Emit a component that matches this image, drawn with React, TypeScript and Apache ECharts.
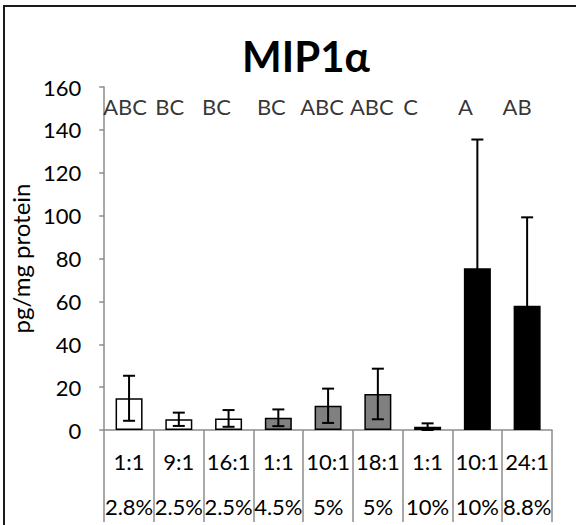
import React, { useEffect, useRef } from 'react';
import * as echarts from 'echarts';

const categories = ['1:1', '9:1', '16:1', '1:1', '10:1', '18:1', '1:1', '10:1', '24:1'];
const percents = ['2.8%', '2.5%', '2.5%', '4.5%', '5%', '5%', '10%', '10%', '8.8%'];
const means = [14.8, 5.0, 5.4, 5.7, 11.3, 16.8, 1.5, 75.5, 58.0];
const errors = [10.5, 3.1, 3.9, 3.9, 8.0, 11.8, 1.6, 60.0, 41.2];
const letters = ['ABC', 'BC', 'BC', 'BC', 'ABC', 'ABC', 'C', 'A', 'AB'];
const barColors = ['#ffffff', '#ffffff', '#ffffff', '#808080', '#808080', '#808080', '#000000', '#000000', '#000000'];
const letterOffsets = [-4, -9, -12, -7, -6, -6, -17, -12, -10];
const letterLevel = 151;
const yMin = 0;
const yMax = 160;
const yStep = 20;

const FONT = 'Lato, "Open Sans", sans-serif';

export default function App() {
  const ref = useRef<HTMLDivElement>(null);
  useEffect(() => {
    if (!ref.current) return;
    const chart = echarts.init(ref.current, undefined, { renderer: 'svg' });
    chart.setOption({
      animation: false,
      backgroundColor: '#ffffff',
      textStyle: { fontFamily: FONT },
      grid: { left: 102, right: 24, top: 87, bottom: 95 },
      graphic: [
        {
          type: 'rect',
          shape: { x: 4, y: 6, width: 620, height: 600 },
          style: { fill: 'none', stroke: '#1a1a1a', lineWidth: 2 },
          silent: true,
        },
        {
          type: 'text',
          x: 306,
          y: 56,
          style: {
            text: 'MIP1α',
            fontSize: 42,
            fontWeight: 'bold',
            fontFamily: FONT,
            fill: '#000',
            align: 'center',
            verticalAlign: 'middle',
          },
        },
      ],
      xAxis: {
        type: 'category',
        data: categories,
        axisLine: { lineStyle: { color: '#8c8c8c', width: 1.5 } },
        axisTick: { show: true, length: 92, lineStyle: { color: '#8c8c8c', width: 1.5 } },
        axisLabel: {
          interval: 0,
          margin: 9,
          formatter: (v: string, i: number) => `{a|${v}}\n{b|${percents[i]}}`,
          rich: {
            a: { fontSize: 22, lineHeight: 45, color: '#000', fontFamily: FONT },
            b: { fontSize: 22, lineHeight: 45, color: '#000', fontFamily: FONT },
          },
        },
      },
      yAxis: {
        type: 'value',
        min: yMin,
        max: yMax,
        interval: yStep,
        name: 'pg/mg protein',
        nameLocation: 'middle',
        nameGap: 64,
        nameTextStyle: { fontSize: 24, color: '#000', fontFamily: FONT },
        axisLine: { show: true, lineStyle: { color: '#8c8c8c', width: 1.5 } },
        axisTick: { show: true, length: 5, lineStyle: { color: '#8c8c8c', width: 1.5 } },
        splitLine: { show: false },
        axisLabel: { fontSize: 22, color: '#000', margin: 23, fontFamily: FONT },
      },
      series: [
        {
          type: 'bar',
          barWidth: 27,
          data: means.map((m, i) => ({
            value: m,
            itemStyle: { color: barColors[i], borderColor: '#000', borderWidth: 1.5 },
          })),
          z: 2,
        },
        {
          type: 'custom',
          z: 3,
          data: means.map((m, i) => [i, m, errors[i]]),
          encode: { x: 0, y: 1 },
          renderItem: (params: any, api: any) => {
            const x = api.value(0);
            const m = api.value(1);
            const e = api.value(2);
            const top = api.coord([x, m + e]);
            const bot = api.coord([x, Math.max(0, m - e)]);
            const hw = 6;
            const st = { stroke: '#000', lineWidth: 2 };
            return {
              type: 'group',
              children: [
                { type: 'line', shape: { x1: top[0], y1: top[1], x2: bot[0], y2: bot[1] }, style: st },
                { type: 'line', shape: { x1: top[0] - hw, y1: top[1], x2: top[0] + hw, y2: top[1] }, style: st },
                { type: 'line', shape: { x1: bot[0] - hw, y1: bot[1], x2: bot[0] + hw, y2: bot[1] }, style: st },
              ],
            };
          },
        },
        {
          type: 'scatter',
          symbolSize: 0,
          z: 4,
          data: letters.map((l, i) => ({
            value: [i, letterLevel],
            label: {
              show: true,
              position: 'inside',
              offset: [letterOffsets[i], 0],
              formatter: l,
              fontSize: 22,
              color: '#000',
              fontFamily: FONT,
            },
          })),
        },
      ],
    });
    return () => chart.dispose();
  }, []);
  return <div ref={ref} style={{ position: 'fixed', left: 0, top: 0, width: 576, height: 525 }} />;
}
